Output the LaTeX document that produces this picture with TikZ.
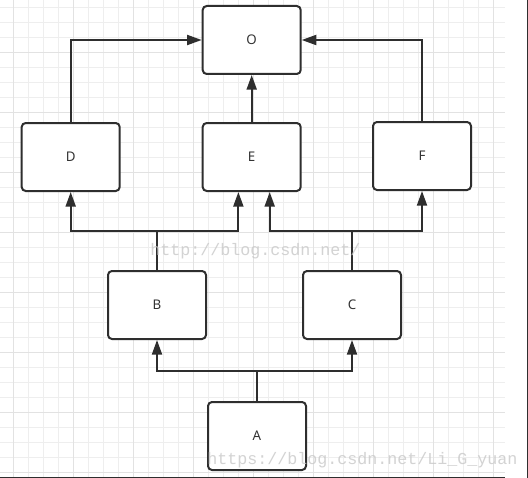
\documentclass[tikz,border=0pt]{standalone}
\usepackage{fontspec}
\setmainfont{Noto Sans}
\newfontfamily\wmfont{Liberation Mono}
\usetikzlibrary{arrows.meta}
\definecolor{boxc}{HTML}{2E2E2E}
\definecolor{txtc}{HTML}{333333}
\definecolor{gridminor}{HTML}{EEEEEE}
\definecolor{gridmajor}{HTML}{E2E2E2}
\definecolor{wmc}{HTML}{C8C8C8}
\tikzset{
  box/.style={draw=boxc, line width=1.5pt, rounded corners=3pt, fill=white,
    minimum width=73.5pt, minimum height=51pt, inner sep=0pt,
    font=\fontsize{10}{12}\selectfont, text=txtc},
  conn/.style={draw=boxc, line width=1.5pt},
  arr/.style={conn, -{Triangle[length=11pt,width=7.5pt]}},
  minorline/.style={draw=gridminor, line width=0.75pt},
  majorline/.style={draw=gridmajor, line width=0.75pt},
  watermark/.style={anchor=base west, inner sep=0pt, text=wmc, opacity=0.8,
    font=\wmfont\fontsize{12.5}{14}\selectfont},
  frameline/.style={draw=boxc, line width=0.9pt}
}
\begin{document}
\begin{tikzpicture}[x=0.75pt,y=-0.75pt]
\useasboundingbox (0,0) rectangle (528,478);
\fill[white] (0,0) rectangle (528,478);
% grid
\foreach \i in {0,...,32} {
  \draw[minorline] ({13.3+15*\i},0) -- ({13.3+15*\i},477);
}
\foreach \j in {0,...,31} {
  \draw[minorline] (0,{7.3+15*\j}) -- (505,{7.3+15*\j});
}
\foreach \k in {0,...,8} {
  \draw[majorline] ({13.3+60*\k},0) -- ({13.3+60*\k},477);
}
\foreach \k in {0,...,7} {
  \draw[majorline] (0,{52.3+60*\k}) -- (505,{52.3+60*\k});
}
\draw[frameline] (0,477.5) -- (505,477.5);
\draw[frameline] (527.5,0) -- (527.5,478);

% nodes
\node[box] (O) at (251.7,40) {O};
\node[box] (D) at (70.7,157) {D};
\node[box] (E) at (251.7,157) {E};
\node[box] (F) at (422,156) {F};
\node[box] (B) at (157,305) {B};
\node[box] (C) at (352,305) {C};
\node[box] (A) at (257,436) {A};

% connectors
\draw[arr] (D.north) |- (O.west);
\draw[arr] (F.north) |- (O.east);
\draw[arr] (E.north) -- (O.south);

\coordinate (bj) at (157,231);
\coordinate (cj) at (352,230.5);
\coordinate (aj) at (257,371);

\draw[conn] (B.north) -- (bj);
\draw[arr] (bj) -| (D.south);
\draw[arr] (bj) -| ([xshift=-10pt]E.south);

\draw[conn] (C.north) -- (cj);
\draw[arr] (cj) -| ([xshift=13.5pt]E.south);
\draw[arr] (cj) -| (F.south);

\draw[conn] (A.north) -- (aj);
\draw[arr] (aj) -| (B.south);
\draw[arr] (aj) -| (C.south);

% watermarks
\node[watermark] (wm1) at (150,255) {http://blog.csdn.net/};
\node[watermark] (wm2) at (207,464) {https://blog.csdn.net/Li\_G\_yuan};
\end{tikzpicture}
\end{document}
